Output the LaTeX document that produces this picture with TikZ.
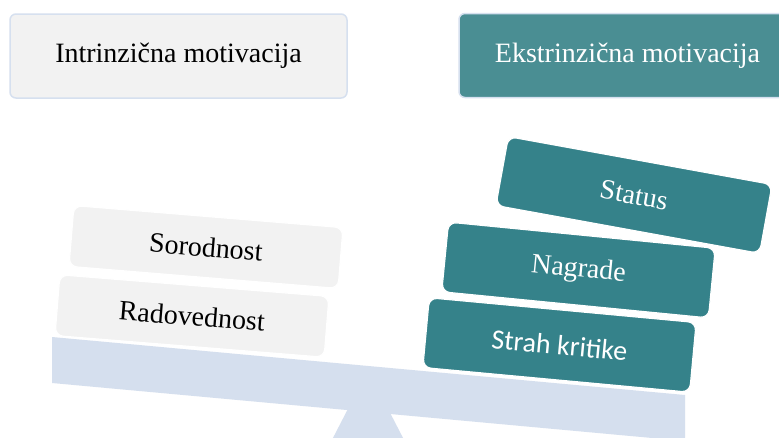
\documentclass[tikz,border=0pt]{standalone}
\usepackage{fontspec}
\setmainfont{Liberation Serif}
\newfontfamily\calibri{Carlito}
\definecolor{sivo}{HTML}{F2F2F2}
\definecolor{obroba}{HTML}{D6E0EF}
\definecolor{tealsvetla}{HTML}{4A8E93}
\definecolor{tealtemna}{HTML}{35828A}
\definecolor{tehtnica}{HTML}{D5DFEE}
\tikzset{
    naslov/.style={rounded corners=6pt, draw=obroba, line width=1.5pt,
        minimum width=337pt, minimum height=84pt, font=\fontsize{28}{34}\selectfont},
    utez/.style={rounded corners=8pt, draw=white, line width=1.2pt,
        minimum width=270pt, minimum height=61pt, font=\fontsize{28}{34}\selectfont},
    utezdesno/.style={utez, fill=tealtemna, text=white, minimum width=268pt, minimum height=70pt}
}
\begin{document}
\begin{tikzpicture}[x=1pt, y=-1pt]
    \clip (0,0) rectangle (779,437);
    \fill[white] (0,0) rectangle (779,437);
    
    \pgfmathsetmacro{\debelina}{46} %debelina tehtnice
    %%tehtnica: gred je nagnjena v desno, podpora je trikotnik pod njo
    \coordinate (Gzl) at (52,337);
    \coordinate (Gzd) at (685,395);
    \coordinate (Gsl) at (52,337+\debelina);
    \coordinate (Gsd) at (685,395+\debelina);
    \coordinate (Vrh) at (368,370);
    \coordinate (Pl) at (318,467);
    \coordinate (Pd) at (418,467);
    \fill[tehtnica] (Gzl) -- (Gzd) -- (Gsd) -- (Gsl) -- cycle;
    \fill[tehtnica] (Vrh) -- (Pd) -- (Pl) -- cycle;
    
    \node[naslov, fill=sivo] (intr) at (178.5,56) {Intrinzična motivacija};
    \node[naslov, fill=tealsvetla, text=white] (ekstr) at (627.5,55.5) {Ekstrinzična motivacija};
    
    \foreach \ime/\x/\y/\kot/\t in
    {rad/192/316/-4.6/Radovednost,
        sor/206/247/-4.7/Sorodnost
    }
    {
        \node[utez, fill=sivo, rotate=\kot] (\ime) at (\x,\y) {\t};
    };
    
    \node[utezdesno, rotate=-5.3, font=\calibri\fontsize{28}{34}\selectfont] (strah) at (559.5,345) {Strah kritike};
    \foreach \ime/\x/\y/\kot/\t in
    {nagr/578.5/270/-5.6/Nagrade,
        stat/634/195/-10.3/Status
    }
    {
        \node[utezdesno, rotate=\kot] (\ime) at (\x,\y) {\t};
    };
\end{tikzpicture}
\end{document}
